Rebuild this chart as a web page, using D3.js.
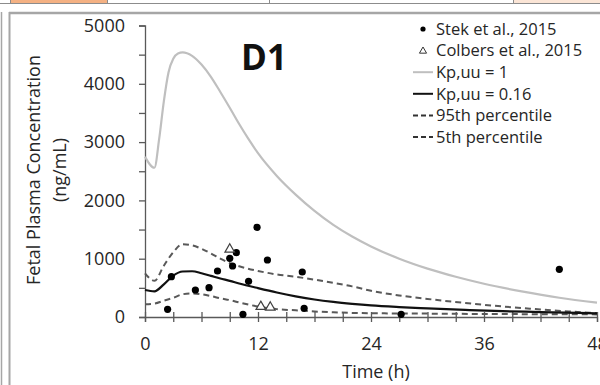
<!DOCTYPE html>
<html><head><meta charset="utf-8">
<script src="https://cdn.jsdelivr.net/npm/d3@7"></script>
<style>html,body{margin:0;padding:0;background:#fff;}svg{display:block;}</style>
</head><body>
<svg id="c" width="600" height="385"></svg>
<script>
// ---- data ----
const xTicks = [0, 12, 24, 36, 48];
const yTicks = [0, 1000, 2000, 3000, 4000, 5000];
const kp1Time = [0, 1, 1.5, 2, 2.5, 3, 3.5, 4, 5, 6, 7, 8, 9, 10, 11, 12, 14, 16, 18, 20, 22, 24, 27, 30, 33, 36, 40, 44, 48];
const kp1Conc = [2750, 2560, 3050, 3700, 4200, 4430, 4520, 4540, 4480, 4330, 4120, 3860, 3590, 3310, 3050, 2810, 2420, 2100, 1820, 1580, 1380, 1210, 1000, 830, 690, 570, 440, 330, 245];
const kp016Time = [0, 1, 2, 3, 4, 5, 6, 7, 8, 9, 10, 12, 14, 16, 18, 20, 22, 24, 27, 30, 34, 38, 42, 46, 48];
const kp016Conc = [463, 440, 560, 710, 780, 785, 750, 705, 660, 620, 575, 495, 420, 355, 300, 258, 225, 198, 170, 148, 122, 100, 85, 70, 63];
const p95Time = [0, 1, 2, 3, 4, 5, 6, 7, 8, 9, 10, 12, 14, 16, 18, 20, 22, 24, 27, 30, 34, 38, 42, 45, 48];
const p95Conc = [750, 620, 880, 1110, 1250, 1230, 1170, 1090, 1000, 925, 870, 790, 730, 690, 640, 585, 525, 450, 370, 310, 240, 180, 130, 95, 65];
const p5Time = [0, 1, 2, 3, 4, 5, 6, 7, 8, 9, 10, 12, 14, 16, 18, 20, 24, 30, 36, 42, 48];
const p5Conc = [220, 230, 280, 330, 390, 405, 390, 360, 320, 290, 250, 180, 135, 115, 95, 80, 65, 58, 52, 48, 45];
const stekTime = [2.4, 2.8, 5.35, 6.8, 7.7, 9.0, 9.3, 9.7, 10.4, 11.0, 11.9, 13.0, 16.7, 16.9, 27.2, 44.0];
const stekConc = [132, 691, 463, 503, 789, 1007, 875, 1103, 46, 612, 1539, 978, 772, 149, 46, 818];
const colbersTime = [9.0, 12.3, 13.3];
const colbersConc = [1161, 177, 166];
const legendLabels = ["Stek et al., 2015", "Colbers et al., 2015", "Kp,uu = 1", "Kp,uu = 0.16", "95th percentile", "5th percentile"];

const svg = d3.select("#c");
const FONT = "'Open Sans', sans-serif";
const axisColor = "#595959";
const textColor = "#262626";

// ---- frame decorations ----
svg.append("rect").attr("x", 10).attr("y", 0).attr("width", 97).attr("height", 3).attr("fill", "#F4B183");
svg.append("rect").attr("x", 513).attr("y", 0).attr("width", 87).attr("height", 3).attr("fill", "#FBE5D6");
svg.append("line").attr("x1", 0).attr("x2", 600).attr("y1", 3.5).attr("y2", 3.5).attr("stroke", "#8c8c8c").attr("stroke-width", 1);
[10, 107, 269, 513].forEach(x => svg.append("line").attr("x1", x + 0.5).attr("x2", x + 0.5).attr("y1", 0).attr("y2", 4).attr("stroke", "#8c8c8c"));
svg.append("line").attr("x1", 9).attr("x2", 600).attr("y1", 13).attr("y2", 13).attr("stroke", "#a6a6a6").attr("stroke-width", 2.5);
svg.append("line").attr("x1", 9.5).attr("x2", 9.5).attr("y1", 12).attr("y2", 385).attr("stroke", "#a6a6a6").attr("stroke-width", 2);
svg.append("line").attr("x1", 1.5).attr("x2", 1.5).attr("y1", 12).attr("y2", 385).attr("stroke", "#a6a6a6").attr("stroke-width", 1.5);

// ---- scales ----
const x = d3.scaleLinear().domain([0, 48]).range([145, 597]);
const y = d3.scaleLinear().domain([0, 5000]).range([317, 25.5]);

// ---- axes ----
const yAxis = svg.append("g").attr("transform", `translate(${x(0)},0)`)
  .call(d3.axisLeft(y).tickValues(d3.range(0, 5001, 500)).tickSize(6).tickFormat(d => yTicks.includes(d) ? d : ""));
yAxis.select(".domain").attr("stroke", axisColor).attr("stroke-width", 1.3);
yAxis.selectAll(".tick line").attr("stroke", axisColor).attr("stroke-width", 1.3);
yAxis.selectAll(".tick text").attr("x", -20).attr("font-family", FONT).attr("font-size", 18).attr("fill", textColor);

const xAxis = svg.append("g").attr("transform", `translate(0,${y(0)})`)
  .call(d3.axisBottom(x).tickValues(d3.range(0, 49, 3)).tickSize(5).tickFormat(d => xTicks.includes(d) ? d : ""));
xAxis.select(".domain").attr("stroke", axisColor).attr("stroke-width", 1.3);
xAxis.selectAll(".tick line").attr("stroke", axisColor).attr("stroke-width", 1.3).attr("y1", -5);
xAxis.selectAll(".tick text").attr("y", 20).attr("font-family", FONT).attr("font-size", 18).attr("fill", textColor);

// ---- axis titles ----
svg.append("text").attr("x", (x(0) + x(48)) / 2 + 5).attr("y", 378).attr("text-anchor", "middle")
  .attr("font-family", FONT).attr("font-size", 18).attr("fill", textColor).text("Time (h)");
svg.append("text").attr("transform", "translate(40,170) rotate(-90)").attr("text-anchor", "middle")
  .attr("font-family", FONT).attr("font-size", 18).attr("fill", textColor).text("Fetal Plasma Concentration");
svg.append("text").attr("transform", "translate(66,170) rotate(-90)").attr("text-anchor", "middle")
  .attr("font-family", FONT).attr("font-size", 18).attr("fill", textColor).text("(ng/mL)");

// ---- title ----
svg.append("text").attr("x", 264).attr("y", 70).attr("text-anchor", "middle")
  .attr("font-family", FONT).attr("font-weight", "bold").attr("font-size", 35).attr("fill", "#111").text("D1");

// ---- lines ----
const line = d3.line().x(d => x(d[0])).y(d => y(d[1])).curve(d3.curveMonotoneX);
const zip = (a, b) => a.map((v, i) => [v, b[i]]);
svg.append("path").datum(zip(kp1Time, kp1Conc)).attr("d", line).attr("fill", "none").attr("stroke", "#BFBFBF").attr("stroke-width", 2.2);
svg.append("path").datum(zip(p95Time, p95Conc)).attr("d", line).attr("fill", "none").attr("stroke", "#595959").attr("stroke-width", 2).attr("stroke-dasharray", "6,4");
svg.append("path").datum(zip(p5Time, p5Conc)).attr("d", line).attr("fill", "none").attr("stroke", "#595959").attr("stroke-width", 2).attr("stroke-dasharray", "6,4");
svg.append("path").datum(zip(kp016Time, kp016Conc)).attr("d", line).attr("fill", "none").attr("stroke", "#111").attr("stroke-width", 2.2);

// ---- points ----
svg.append("g").selectAll("circle").data(zip(stekTime, stekConc)).join("circle")
  .attr("cx", d => x(d[0])).attr("cy", d => y(d[1])).attr("r", 3.6).attr("fill", "#000");
const tri = d3.symbol().type(d3.symbolTriangle).size(40);
svg.append("g").selectAll("path").data(zip(colbersTime, colbersConc)).join("path")
  .attr("transform", d => `translate(${x(d[0])},${y(d[1])})`).attr("d", tri)
  .attr("fill", "#fff").attr("stroke", "#404040").attr("stroke-width", 1.2);

// ---- legend ----
const lg = svg.append("g");
const rowY = i => 29 + i * 21.6;
legendLabels.forEach((lab, i) => {
  const cy = rowY(i);
  if (i === 0) lg.append("circle").attr("cx", 423).attr("cy", cy).attr("r", 2.6).attr("fill", "#000");
  else if (i === 1) lg.append("path").attr("transform", `translate(423,${cy + 0.5})`).attr("d", d3.symbol().type(d3.symbolTriangle).size(22)).attr("fill", "#fff").attr("stroke", "#333").attr("stroke-width", 1);
  else {
    const st = [null, null, ["#BFBFBF", null], ["#111", null], ["#333", "5,3"], ["#333", "5,3"]][i];
    const l = lg.append("line").attr("x1", 413).attr("x2", 433).attr("y1", cy).attr("y2", cy).attr("stroke", st[0]).attr("stroke-width", 2);
    if (st[1]) l.attr("stroke-dasharray", st[1]);
  }
  lg.append("text").attr("x", 436).attr("y", cy).attr("dy", "0.35em").attr("font-family", FONT).attr("font-size", 16.5).attr("fill", textColor).text(lab);
});
</script>
</body></html>
